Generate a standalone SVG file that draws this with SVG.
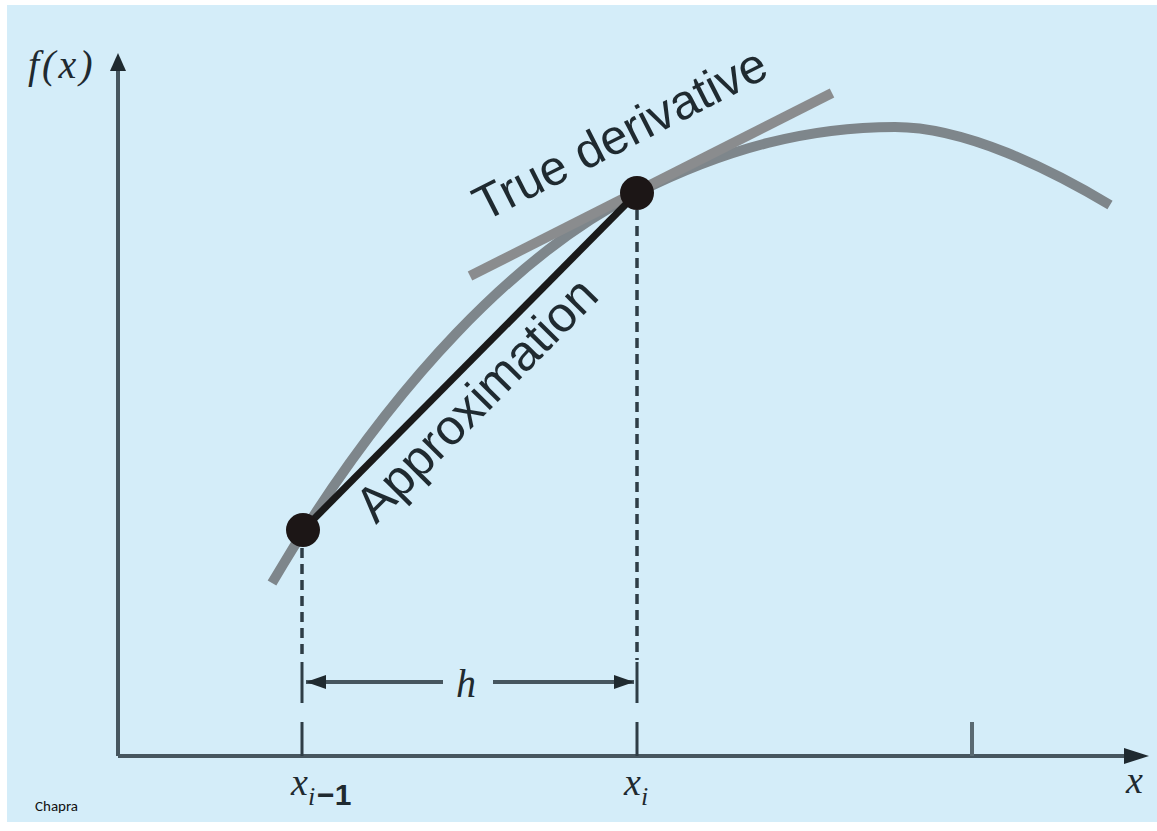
<svg xmlns="http://www.w3.org/2000/svg" width="1157" height="831" viewBox="0 0 1157 831">
<style>
.axis{stroke:#46565f;stroke-width:4;fill:none}
.tick{stroke:#2e3d46;stroke-width:3;fill:none}
.dash{stroke:#2e3d46;stroke-width:3.5;fill:none;stroke-dasharray:10 6}
.serif{font-family:"Liberation Serif","DejaVu Serif",serif;font-style:italic;fill:#1f2a30}
.sans{font-family:"Liberation Sans","DejaVu Sans",sans-serif;fill:#1f2a30}
</style>
<defs>
<marker id="ah" viewBox="0 0 20 14" refX="20" refY="7" markerWidth="20" markerHeight="14" markerUnits="userSpaceOnUse" orient="auto-start-reverse">
<path d="M0 0 L20 7 L0 14 z" fill="#1f2a30"/>
</marker>
</defs>
<rect x="0" y="0" width="1157" height="831" fill="#ffffff"/>
<rect x="7" y="5" width="1150" height="817" fill="#d4edf9"/>
<g id="axes">
<path class="axis" d="M118 756 V70"/>
<path d="M110 71 L118 53 L126 71 z" fill="#1f2a30"/>
<path class="axis" d="M118 756 H1126"/>
<path d="M1124 748 L1149 756 L1124 764 z" fill="#1f2a30"/>
<text class="serif" x="28" y="78" font-size="40" letter-spacing="3">f(x)</text>
<text class="serif" x="1126" y="793" font-size="38">x</text>
</g>
<g id="ticks">
<path class="tick" d="M302 722 V756 M637 722 V756"/>
<path d="M972 722 V756" stroke="#5a6a72" stroke-width="4"/>
<text class="serif" x="291" y="795" font-size="38">x<tspan font-size="26" dy="10">i</tspan><tspan class="sans" font-style="normal" font-weight="bold" font-size="30" dx="2">−1</tspan></text>
<text class="serif" x="624" y="795" font-size="38">x<tspan font-size="26" dy="10">i</tspan></text>
</g>
<g id="curve">
<path d="M272 583 C392 379 522 251 637 193 C727 147.5 810 127 895 127 C965 127 1050 169 1110 205" fill="none" stroke="#7e868b" stroke-width="10"/>
</g>
<g id="tangent">
<path d="M470 276 L832 93" stroke="#8a8c8e" stroke-width="10" fill="none"/>
<text class="sans" font-size="49" transform="translate(484 222) rotate(-27)">True derivative</text>
</g>
<g id="approximation">
<path d="M302 531 L637 193" stroke="#1a1a1a" stroke-width="7" fill="none"/>
<text class="sans" font-size="50" transform="translate(376 525) rotate(-45.3)">Approximation</text>
</g>
<g id="connectors">
<path class="dash" d="M302 548 V660"/>
<path class="tick" d="M302 662 V703"/>
<path class="dash" d="M637 210 V660"/>
<path class="tick" d="M637 662 V703"/>
<path d="M443 682 H306" stroke="#46565f" stroke-width="4" marker-end="url(#ah)"/>
<path d="M493 682 H634" stroke="#46565f" stroke-width="4" marker-end="url(#ah)"/>
<text class="serif" x="456" y="697" font-size="40">h</text>
</g>
<g id="points">
<circle cx="303" cy="530" r="17" fill="#1c1616"/>
<circle cx="637" cy="193" r="17" fill="#1c1616"/>
</g>
<text x="35" y="811" font-family="Calibri, 'Liberation Sans', 'Open Sans', sans-serif" font-size="15" fill="#111">Chapra</text>
</svg>
